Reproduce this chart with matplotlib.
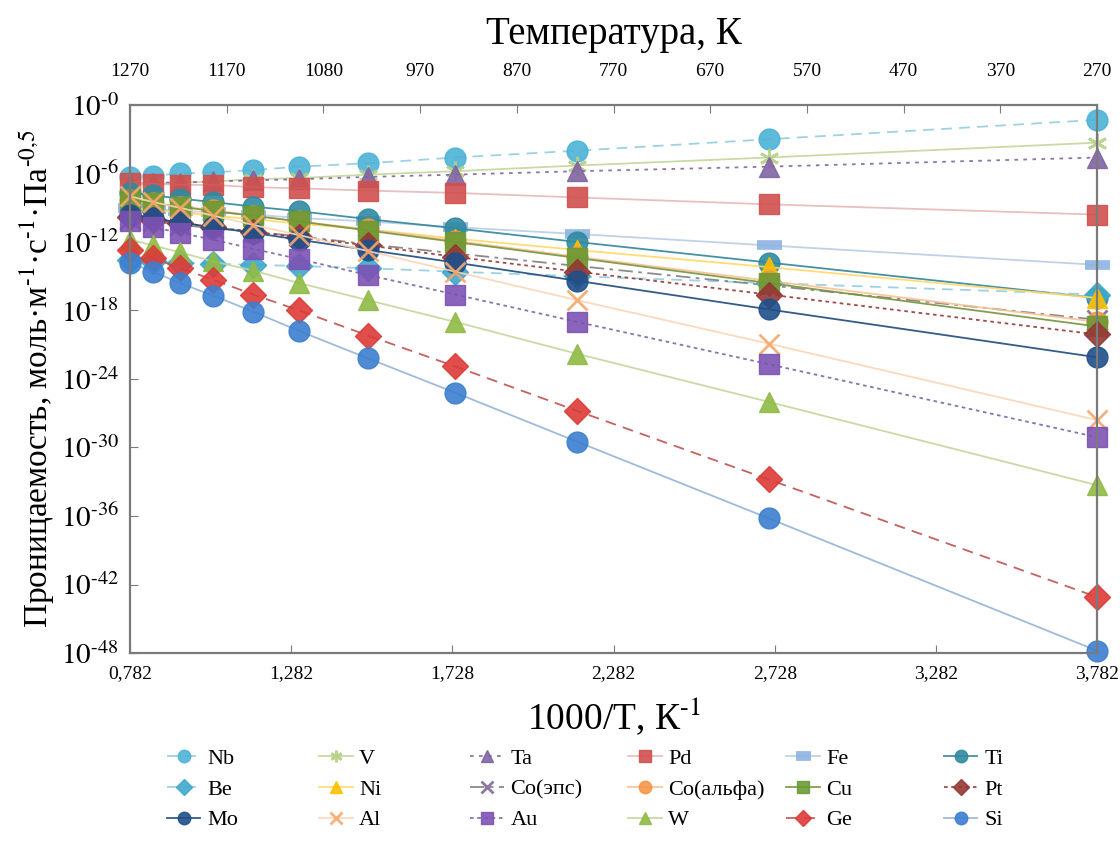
import matplotlib
matplotlib.use("Agg")
import matplotlib.pyplot as plt
import numpy as np

plt.rcParams['font.family'] = ['Liberation Serif', 'DejaVu Serif']
plt.rcParams['mathtext.fontset'] = 'stix'

# 1000/T values of the measurement points
x_vals = [0.782, 0.853, 0.937, 1.040, 1.164, 1.307, 1.521, 1.791, 2.170, 2.763, 3.782]

# log10 of permeability
nb = [-6.3, -6.2, -6.0, -5.9, -5.7, -5.4, -5.1, -4.6, -4.0, -3.0, -1.3]
v = [-7.0, -6.9, -6.8, -6.7, -6.5, -6.4, -6.1, -5.8, -5.3, -4.6, -3.3]
ta = [-6.9, -6.8, -6.8, -6.7, -6.6, -6.5, -6.3, -6.1, -5.8, -5.4, -4.6]
pd_ = [-6.8, -6.9, -7.0, -7.0, -7.2, -7.3, -7.5, -7.7, -8.1, -8.7, -9.6]
fe = [-9.0, -9.1, -9.3, -9.4, -9.6, -9.9, -10.2, -10.7, -11.3, -12.3, -14.0]
ti = [-7.7, -7.9, -8.2, -8.5, -8.9, -9.3, -10.0, -10.8, -12.0, -13.8, -16.9]
be = [-13.6, -13.7, -13.8, -13.9, -14.0, -14.1, -14.3, -14.6, -15.0, -15.6, -16.6]
ni = [-9.0, -9.2, -9.4, -9.7, -10.0, -10.4, -10.9, -11.7, -12.7, -14.2, -16.9]
co_eps = [-10.0, -10.2, -10.5, -10.8, -11.1, -11.5, -12.2, -13.0, -14.1, -15.8, -18.8]
co_alpha = [-8.3, -8.6, -8.9, -9.2, -9.7, -10.2, -10.9, -11.9, -13.3, -15.4, -19.0]
cu = [-8.3, -8.6, -8.9, -9.3, -9.7, -10.2, -11.0, -12.0, -13.4, -15.6, -19.4]
pt = [-9.8, -10.1, -10.3, -10.7, -11.1, -11.6, -12.3, -13.3, -14.6, -16.6, -20.1]
mo = [-9.6, -9.9, -10.3, -10.7, -11.2, -11.8, -12.7, -13.8, -15.4, -17.9, -22.1]
al = [-8.0, -8.5, -9.0, -9.7, -10.5, -11.4, -12.8, -14.6, -17.1, -20.9, -27.6]
au = [-10.2, -10.7, -11.2, -11.8, -12.6, -13.5, -14.9, -16.6, -19.0, -22.7, -29.1]
w = [-11.8, -12.3, -12.9, -13.7, -14.5, -15.6, -17.1, -19.0, -21.8, -26.0, -33.3]
ge = [-12.7, -13.4, -14.3, -15.3, -16.6, -18.0, -20.2, -22.9, -26.8, -32.8, -43.1]
si = [-13.8, -14.6, -15.6, -16.7, -18.1, -19.8, -22.2, -25.2, -29.5, -36.2, -47.8]

names = ['Nb', 'V', 'Ta', 'Pd', 'Fe', 'Ti',
         'Be', 'Ni', 'Co(эпс)', 'Co(альфа)', 'Cu', 'Pt',
         'Mo', 'Al', 'Au', 'W', 'Ge', 'Si']
series = [nb, v, ta, pd_, fe, ti,
          be, ni, co_eps, co_alpha, cu, pt,
          mo, al, au, w, ge, si]

# (marker colour, line colour, line style, marker)
styles = [
    ('#4bb3d6', '#93cddd', (0, (6, 4)), 'o'),
    ('#b5cf85', '#c3d69b', '-', (6, 2, 0)),
    ('#8064a2', '#8064a2', (0, (2, 3)), '^'),
    ('#d0504d', '#e6b9b8', '-', 's'),
    ('#8db3e2', '#b9cde5', '-', '_'),
    ('#2f8aa0', '#31859c', '-', 'o'),
    ('#3fa8cc', '#93cddd', (0, (6, 4)), 'D'),
    ('#ffc000', '#ffd966', '-', '^'),
    ('#7f6a9a', '#7f7f7f', (0, (8, 3, 2, 3)), 'x'),
    ('#f79646', '#fac090', '-', 'o'),
    ('#6a9a34', '#77933c', '-', 's'),
    ('#953735', '#953735', (0, (2, 2)), 'D'),
    ('#1f4f8a', '#1f497d', '-', 'o'),
    ('#f5a86a', '#fcd5b5', '-', 'x'),
    ('#7d52b3', '#8064a2', (0, (2, 2)), 's'),
    ('#8fbb45', '#c3d69b', '-', '^'),
    ('#dc3b36', '#c0504d', (0, (6, 4)), 'D'),
    ('#3b7fd0', '#95b3d7', '-', 'o'),
]

fig = plt.figure(figsize=(11.2, 8.44), dpi=100)
ax = fig.add_axes([0.1161, 0.2263, 0.8634, 0.6493])

handles = []
for name, vals, (mc, lc, ls, mk) in zip(names, series, styles):
    ms = 15
    mew = 1.0
    if mk in ('x', (6, 2, 0)):
        mew = 2.0
        ms = 14
    if mk == '_':
        mew = 7
        ms = 18
    if mk == 'D':
        ms = 13
    h, = ax.plot(x_vals, 10.0 ** np.array(vals), linestyle=ls, color=lc, lw=1.3,
                 alpha=0.9, marker=mk, markersize=ms, markerfacecolor=mc,
                 markeredgecolor=mc, markeredgewidth=mew, clip_on=False,
                 label=name)
    handles.append(h)

ax.set_yscale('log')
ax.set_xlim(0.782, 3.782)
ax.set_ylim(1e-48, 1e0)

# hyphen (U+2010) instead of the long math minus, as in the original
y_ticks = 10.0 ** np.arange(0, -49, -6)
ax.set_yticks(y_ticks)
ax.set_yticklabels([r'$10^{‐%d}$' % p for p in range(0, 49, 6)])
ax.minorticks_off()

bottom_labels = ['0,782', '1,282', '1,728', '2,282', '2,728', '3,282', '3,782']
ax.set_xticks(np.linspace(0.782, 3.782, len(bottom_labels)))
ax.set_xticklabels(bottom_labels)

for s in ax.spines.values():
    s.set_color('#7a7a7a')
    s.set_linewidth(1.6)

ax.tick_params(axis='x', direction='in', length=6, color='#7a7a7a',
               labelsize=14, pad=9)
ax.tick_params(axis='y', direction='in', length=6, color='#7a7a7a',
               labelsize=21, pad=8)

ax.set_xlabel('1000/T, К$^{‐1}$', fontsize=27, labelpad=10)
ax.set_ylabel('Проницаемость, моль·м$^{‐1}$·с$^{‐1}$·Па$^{‐0{,}5}$',
              fontsize=24)
ax.yaxis.set_label_coords(-0.075, 0.5)

# top temperature axis
top_labels = ['1270', '1170', '1080', '970', '870', '770', '670', '570',
              '470', '370', '270']
ax2 = ax.twiny()
ax2.set_xlim(ax.get_xlim())
ax2.set_xticks(np.linspace(0.782, 3.782, len(top_labels)))
ax2.set_xticklabels(top_labels)
ax2.tick_params(axis='x', direction='in', length=6, color='#7a7a7a',
                labelsize=14, pad=18)
ax2.set_xlabel('Температура, К', fontsize=28, labelpad=14)
for s in ax2.spines.values():
    s.set_visible(False)

# legend: 6 columns x 3 rows, row-wise order like the original
col_x = [0.149, 0.285, 0.420, 0.561, 0.702, 0.843]
for c in range(6):
    hs = [handles[r * 6 + c] for r in range(3)]
    fig.legend(handles=hs, labels=[h.get_label() for h in hs],
               loc='upper left', bbox_to_anchor=(col_x[c], 0.113),
               frameon=False, fontsize=16, handlelength=1.5,
               handletextpad=0.3, labelspacing=0.45, borderpad=0,
               borderaxespad=0, markerscale=0.6)

fig.savefig('out.png', dpi=100)
